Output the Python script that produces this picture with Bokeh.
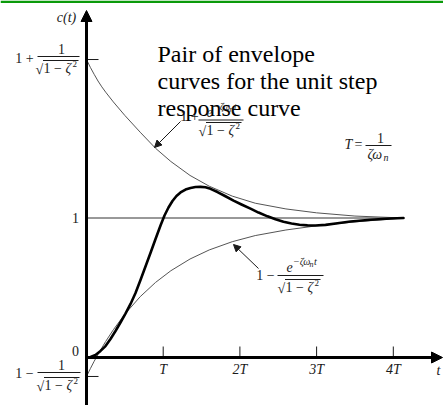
from bokeh.plotting import figure
from bokeh.models import Range1d, Arrow, NormalHead
from bokeh.core.properties import value
from bokeh.embed import file_html
from bokeh.resources import INLINE

# ---- data: time in units of T = 1/(zeta*wn), response c(t) ----
t_resp = [0, 0.052, 0.117, 0.183, 0.248, 0.313, 0.378, 0.443, 0.508, 0.574,
          0.639, 0.704, 0.769, 0.834, 0.900, 0.965, 1.017, 1.069, 1.121, 1.173,
          1.226, 1.291, 1.356, 1.421, 1.486, 1.551, 1.617, 1.708, 1.812, 1.917,
          2.021, 2.138, 2.243, 2.360, 2.464, 2.568, 2.673, 2.777, 2.881, 2.986,
          3.116, 3.273, 3.442, 3.703, 3.964, 4.133]
c_resp = [0, 0.004, 0.018, 0.047, 0.082, 0.133, 0.190, 0.251, 0.315, 0.384,
          0.462, 0.556, 0.652, 0.749, 0.849, 0.946, 1.018, 1.075, 1.122, 1.158,
          1.183, 1.204, 1.215, 1.222, 1.223, 1.220, 1.209, 1.186, 1.156, 1.125,
          1.097, 1.067, 1.039, 1.012, 0.991, 0.973, 0.961, 0.952, 0.947, 0.946,
          0.951, 0.962, 0.975, 0.988, 0.996, 1.0]

t_env = [0, 0.05, 0.1, 0.15, 0.2, 0.25, 0.35, 0.5, 0.7, 0.9, 1.1, 1.35, 1.6,
         1.9, 2.2, 2.6, 3.0, 3.5, 4.133]
c_upper = [2.136, 2.08, 2.03, 1.982, 1.94, 1.902, 1.832, 1.735, 1.615, 1.50,
           1.405, 1.305, 1.228, 1.157, 1.106, 1.065, 1.037, 1.014, 1.0]
c_lower = [-0.136, -0.08, -0.027, 0.022, 0.069, 0.115, 0.199, 0.311, 0.436,
           0.538, 0.622, 0.706, 0.771, 0.830, 0.874, 0.914, 0.944, 0.972, 1.0]

tick_t = [1, 2, 3, 4]
tick_labels = ["T", "2T", "3T", "4T"]
final_value = 1.0

# ---- page geometry ----
W, H = 443, 405
X0, Y0 = 86, 357          # pixel position of the origin
T_PX, C_PX = 76.7, 139.5  # pixels per unit of t and of c
INK = "#1a1a1a"
SERIF = "Liberation Serif"


def X(px):
    return (px - X0) / T_PX


def Y(py):
    return (Y0 - py) / C_PX


p = figure(width=W, height=H,
           x_range=Range1d(X(0), X(W)), y_range=Range1d(Y(H), Y(0)),
           output_backend="svg", toolbar_location=None, min_border=0,
           x_axis_location=None, y_axis_location=None)
p.grid.visible = False
p.outline_line_color = None
p.background_fill_color = "white"
p.border_fill_color = "white"


def txt(px, py, s, size=14, style="normal", align="center", baseline="middle",
        color=INK):
    p.text(x=[X(px)], y=[Y(py)], text=[s], text_font=value(SERIF),
           text_font_size=f"{size}px", text_font_style=style,
           text_align=align, text_baseline=baseline, text_color=color)


def hline(x1, x2, py, w=1.0):
    p.segment(x0=[X(x1)], y0=[Y(py)], x1=[X(x2)], y1=[Y(py)],
              line_width=w, line_color=INK)


def sqrt_den(xl, py):
    # "√(1 − ζ²)" with its overbar
    txt(xl, py + 1, "√", 14, align="left")
    txt(xl + 8, py, "1 − ", 14, align="left")
    txt(xl + 30, py, "ζ", 14, "italic", align="left")
    txt(xl + 37, py - 5, "2", 9, align="left")
    hline(xl + 7.5, xl + 43, py - 8)


def exp_num(xl, py):
    # "e^(−ζωn t)"
    txt(xl, py, "e", 14, "italic", align="left")
    txt(xl + 6.5, py - 5, "−ζω", 10, "italic", align="left")
    txt(xl + 23, py - 2, "n", 8, "italic", align="left")
    txt(xl + 27.5, py - 5, "t", 10, "italic", align="left")


# green rule along the top edge
p.quad(left=[X(0)], right=[X(W)], top=[Y(0)], bottom=[Y(2.5)],
       fill_color="#0a9a0a", line_color=None)

# final-value line, envelopes and the step response
p.segment(x0=[0], y0=[final_value], x1=[t_env[-1]], y1=[final_value],
          line_width=1, line_color="#333333")
p.line(t_env, c_upper, line_width=1, line_color="#555555", line_join="round")
p.line(t_env, c_lower, line_width=1, line_color="#555555", line_join="round")
p.line(t_resp, c_resp, line_width=2.6, line_color="black",
       line_join="round", line_cap="round")

# axes with arrow heads
p.add_layout(Arrow(x_start=0, y_start=Y(H), x_end=0, y_end=Y(10),
                   line_width=3, line_color="black",
                   end=NormalHead(size=11, fill_color="black", line_color="black")))
p.add_layout(Arrow(x_start=0, y_start=0, x_end=X(442), y_end=0,
                   line_width=3, line_color="black",
                   end=NormalHead(size=11, fill_color="black", line_color="black")))

# time ticks and labels
p.segment(x0=tick_t, y0=[0] * 4, x1=tick_t, y1=[Y(346)] * 4,
          line_width=1, line_color=INK)
p.text(x=tick_t, y=[Y(369)] * 4, text=tick_labels, text_font=value(SERIF),
       text_font_size="14px", text_font_style="italic", text_align="center",
       text_baseline="middle", text_color=INK)
txt(438, 370, "t", 14, "italic")

# envelope start markers on the c axis
p.segment(x0=[0, 0], y0=[c_upper[0], c_lower[0]], x1=[X(98)] * 2,
          y1=[c_upper[0], c_lower[0]], line_width=1, line_color=INK)

# c-axis labels
txt(66, 17, "c(t)", 14, "italic")
txt(75, 217.5, "1")
txt(75, 350, "0")

txt(24, 58, "1 +")
txt(61, 48, "1")
hline(37, 79, 56)
sqrt_den(35, 68)

txt(24, 373, "1 −")
txt(61, 364, "1")
hline(37, 80, 372)
sqrt_den(36, 385)

# title
txt(157, 53, "Pair of envelope", 24, align="left", baseline="alphabetic", color="black")
txt(157, 80, "curves for the unit step", 24, align="left", baseline="alphabetic", color="black")
txt(157, 107, "response curve", 24, align="left", baseline="alphabetic", color="black")

# upper envelope annotation
txt(189, 116, "1 +")
exp_num(206, 111)
hline(198, 243, 119.5)
sqrt_den(198, 130)
p.add_layout(Arrow(x_start=X(180), y_start=Y(121), x_end=X(154), y_end=Y(147),
                   line_width=1, line_color=INK,
                   end=NormalHead(size=7, fill_color=INK, line_color=INK)))

# lower envelope annotation
txt(265, 275, "1 −")
exp_num(286, 266)
hline(277, 323, 275)
sqrt_den(277, 287)
p.add_layout(Arrow(x_start=X(258), y_start=Y(268), x_end=X(233), y_end=Y(244),
                   line_width=1, line_color=INK,
                   end=NormalHead(size=7, fill_color=INK, line_color=INK)))

# time constant
txt(348, 144, "T", 14, "italic")
txt(358, 144, "=")
txt(380, 137, "1")
hline(365, 391, 145)
txt(367, 154, "ζω", 14, "italic", align="left")
txt(383, 157, "n", 10, "italic", align="left")

open("out.html", "w").write(file_html(p, INLINE))
